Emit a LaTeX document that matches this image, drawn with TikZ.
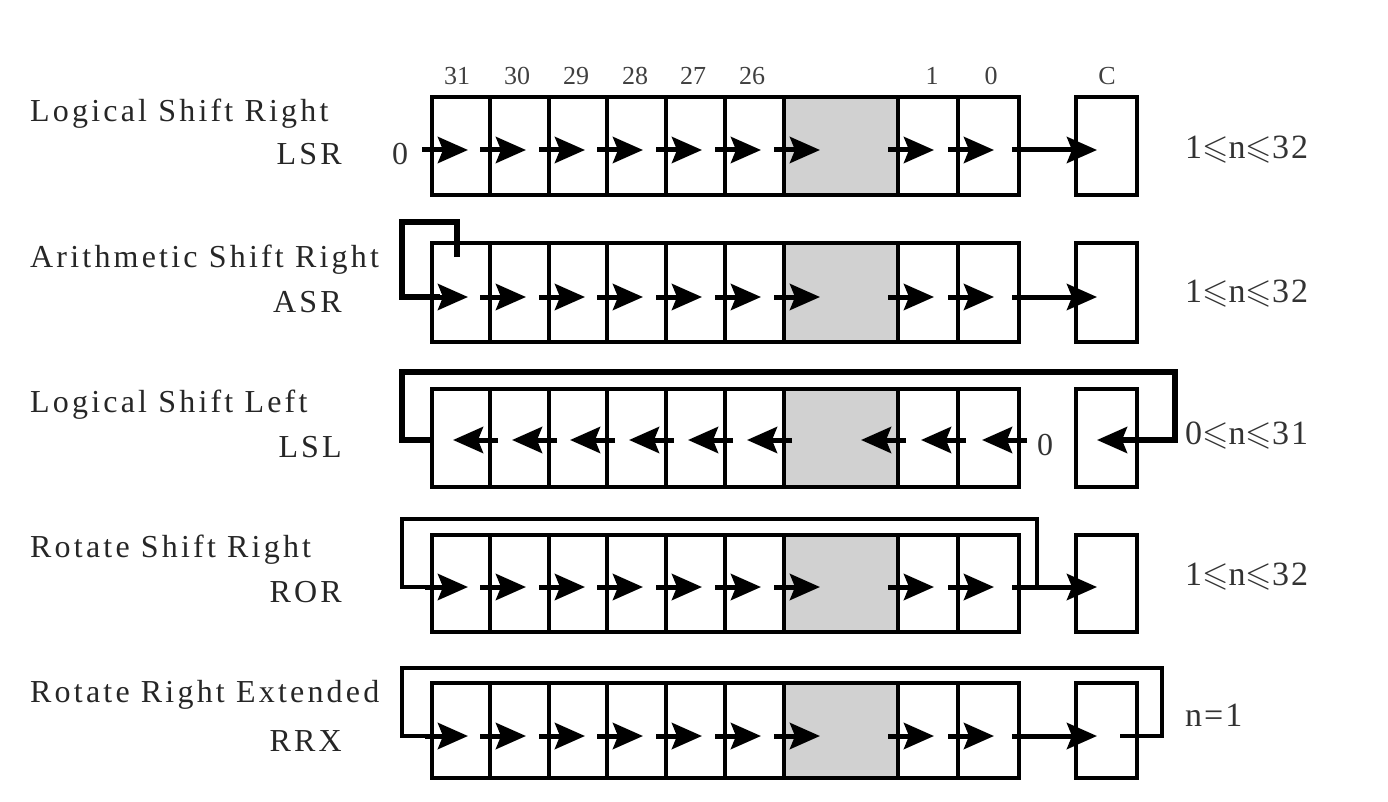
\documentclass[tikz,border=0pt]{standalone}
\usepackage{amssymb}
\usepackage{fontspec}
\setmainfont{Liberation Serif}
\newfontfamily\spacedserif[LetterSpace=10]{Liberation Serif}
\newfontfamily\rangeserif[LetterSpace=6]{Liberation Serif}
\usetikzlibrary{arrows.meta}
\tikzset{
  cellbox/.style={line width=3.5pt},
  grayfill/.style={fill=black!18},
  shiftarrow/.style={line width=5pt,-{Stealth[length=30pt,width=26pt,inset=5pt]}},
  feedback/.style={line width=4pt},
  heavyfeedback/.style={line width=5.5pt},
  rowtitle/.style={anchor=base west,inner sep=0pt,text=black!85,font=\spacedserif\fontsize{32}{34}\selectfont},
  rowabbr/.style={anchor=base east,inner sep=0pt,text=black!85,font=\spacedserif\fontsize{32}{34}\selectfont},
  bitlabel/.style={anchor=base,inner sep=0pt,text=black!75,font=\fontsize{26}{28}\selectfont},
  rangelabel/.style={anchor=base west,inner sep=0pt,text=black!80,font=\rangeserif\fontsize{34}{36}\selectfont},
  zerolabel/.style={anchor=base,inner sep=0pt,text=black!80,font=\fontsize{32}{34}\selectfont}
}
\begin{document}
\begin{tikzpicture}[x=1pt,y=-1pt]
\useasboundingbox (0,0) rectangle (1388,802);

% bit numbers
\foreach \n/\x in {31/457,30/517,29/576,28/635,27/693,26/752,1/932,0/991,C/1107}
  \node[bitlabel] (bit\n) at (\x,85) {\n};

% register rows
\foreach \r/\t/\b in {1/97/195,2/243/342,3/389/487,4/535/632,5/683/778}{
  \fill[grayfill] (784,\t) rectangle (898,\b);
  \draw[cellbox] (432,\t) rectangle (1019,\b);
  \foreach \x in {490,549,607,666,725,784,898,958}
    \draw[cellbox] (\x,\t) -- (\x,\b);
  \draw[cellbox] (1076,\t) rectangle (1137,\b);
}

% rightward shift arrows (rows 1,2,4,5)
\foreach \a in {150,297,587,736}{
  \foreach \x in {490,549,607,666,725,784,898,958}{
    \coordinate (s) at (\x-10,\a);
    \coordinate (e) at (\x+36,\a);
    \draw[shiftarrow] (s) -- (e);
  }
  \coordinate (cs) at (1012,\a);
  \coordinate (ce) at (1097,\a);
  \draw[shiftarrow] (cs) -- (ce);
}

% row 1: LSR
\node[rowtitle] (t1) at (30,122) {Logical Shift Right};
\node[rowabbr] (a1) at (342,165) {LSR};
\node[zerolabel] (z1) at (400,165) {0};
\coordinate (in1) at (422,150);
\coordinate (tip1) at (468,150);
\draw[shiftarrow] (in1) -- (tip1);
\node[rangelabel] (n1) at (1185,159) {1$\leqslant$n$\leqslant$32};

% row 2: ASR
\node[rowtitle] (t2) at (30,267) {Arithmetic Shift Right};
\node[rowabbr] (a2) at (342,312) {ASR};
\coordinate (msb2) at (457,257);
\coordinate (tip2) at (468,297);
\draw[heavyfeedback] (msb2) -- (457,222) -- (402,222) -- (402,297) -- (440,297);
\draw[shiftarrow] (425,297) -- (tip2);
\node[rangelabel] (n2) at (1185,302) {1$\leqslant$n$\leqslant$32};

% row 3: LSL
\node[rowtitle] (t3) at (30,412) {Logical Shift Left};
\node[rowabbr] (a3) at (342,457) {LSL};
\foreach \x in {490,549,607,666,725,784,898,958,1019}{
  \coordinate (s) at (\x+8,440);
  \coordinate (e) at (\x-37,440);
  \draw[shiftarrow] (s) -- (e);
}
\node[zerolabel] (z3) at (1045,455) {0};
\coordinate (out3) at (432,440);
\coordinate (tip3) at (1097,440);
\draw[heavyfeedback] (out3) -- (402,440) -- (402,372) -- (1175,372) -- (1175,440) -- (1120,440);
\draw[shiftarrow] (1140,440) -- (tip3);
\node[rangelabel] (n3) at (1185,444) {0$\leqslant$n$\leqslant$31};

% row 4: ROR
\node[rowtitle] (t4) at (30,557) {Rotate Shift Right};
\node[rowabbr] (a4) at (342,602) {ROR};
\coordinate (br4) at (1037,587);
\coordinate (tip4) at (468,587);
\draw[feedback] (br4) -- (1037,519) -- (402,519) -- (402,587) -- (440,587);
\draw[shiftarrow] (425,587) -- (tip4);
\node[rangelabel] (n4) at (1185,585) {1$\leqslant$n$\leqslant$32};

% row 5: RRX
\node[rowtitle] (t5) at (30,702) {Rotate Right Extended};
\node[rowabbr] (a5) at (342,751) {RRX};
\coordinate (cout5) at (1120,736);
\coordinate (tip5) at (468,736);
\draw[feedback] (cout5) -- (1162,736) -- (1162,668) -- (402,668) -- (402,736) -- (440,736);
\draw[shiftarrow] (425,736) -- (tip5);
\node[rangelabel] (n5) at (1185,726) {n=1};
\end{tikzpicture}
\end{document}
